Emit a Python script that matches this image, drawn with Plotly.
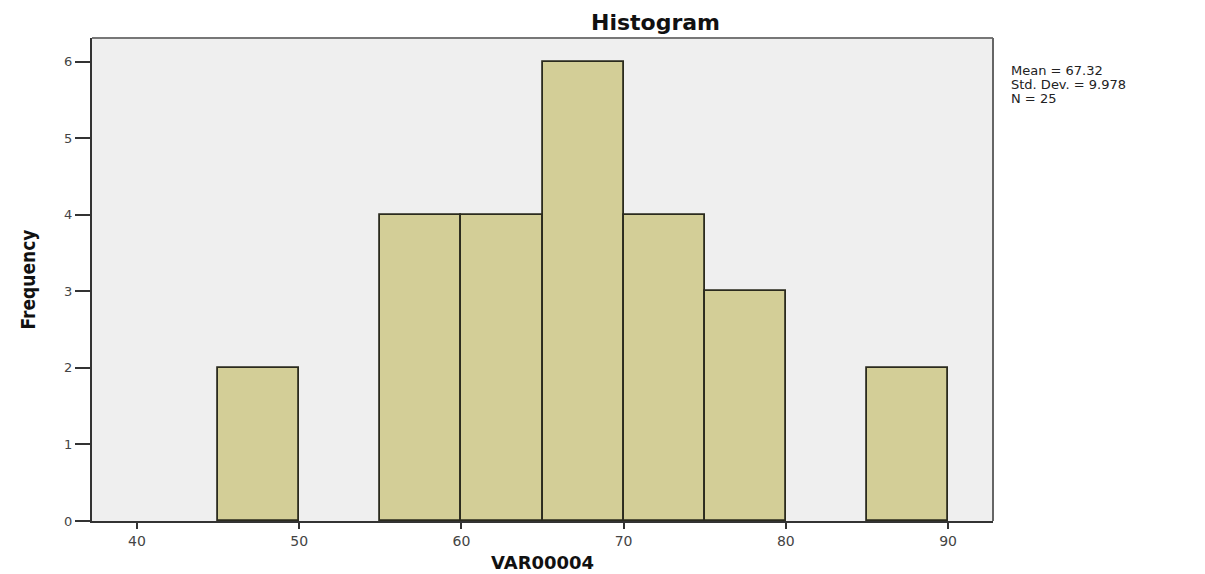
import plotly.graph_objects as go

bin_starts = [45, 55, 60, 65, 70, 75, 85]
bin_width = 5
counts = [2, 4, 4, 6, 4, 3, 2]
x_ticks = [40, 50, 60, 70, 80, 90]
y_ticks = [0, 1, 2, 3, 4, 5, 6]
stats_lines = ["Mean = 67.32", "Std. Dev. = 9.978", "N = 25"]
title_text = "Histogram"
x_title = "VAR00004"
y_title = "Frequency"

centers = [s + bin_width / 2 for s in bin_starts]

WIDE = "DejaVu Sans, Verdana, sans-serif"

fig = go.Figure()
fig.add_trace(go.Bar(
    x=centers, y=counts, width=[bin_width] * len(counts),
    marker=dict(color="#d3ce97", line=dict(color="#2b2b1e", width=1.8)),
    showlegend=False, hoverinfo="x+y",
))

annotations = [
    dict(text="<b>%s</b>" % title_text, xref="paper", yref="paper", x=0.625, y=1.0,
         yshift=16, xanchor="center", yanchor="middle", showarrow=False,
         font=dict(family=WIDE, size=22, color="#111")),
    dict(text="<b>%s</b>" % x_title, xref="paper", yref="paper", x=0.5, y=0.0,
         yshift=-41, xanchor="center", yanchor="middle", showarrow=False,
         font=dict(family=WIDE, size=18, color="#111")),
    dict(text="<b>%s</b>" % y_title, xref="paper", yref="paper", x=0.0, y=0.5,
         xshift=-65, xanchor="center", yanchor="middle", textangle=-90, showarrow=False,
         font=dict(family="DejaVu Sans Condensed, Liberation Sans Narrow, sans-serif",
                   size=19, color="#111")),
]
for i, line in enumerate(stats_lines):
    annotations.append(dict(
        text=line, xref="paper", yref="paper", x=1.0, xshift=16, y=1.0,
        yshift=-32 - 14 * i, xanchor="left", yanchor="middle", align="left",
        showarrow=False, font=dict(family=WIDE, size=13, color="#222")))

fig.update_layout(
    width=1197, height=566,
    margin=dict(l=84, r=212, t=30, b=53),
    paper_bgcolor="white", plot_bgcolor="#efefef",
    font=dict(family=WIDE, color="#333333", size=14),
    bargap=0,
    xaxis=dict(
        range=[37.23, 92.77], tickvals=x_ticks, ticks="outside", ticklen=6,
        tickcolor="#333", tickwidth=2, showgrid=False, zeroline=False,
        showline=True, linecolor="#333", linewidth=2, mirror=False,
        tickfont=dict(family=WIDE, size=14, color="#444"),
    ),
    yaxis=dict(
        range=[0, 6.31], tickvals=y_ticks, ticks="outside", ticklen=15,
        tickcolor="#333", tickwidth=2, showgrid=False, zeroline=False,
        showline=True, linecolor="#333", linewidth=2,
        tickfont=dict(family=WIDE, size=13, color="#444"),
    ),
    shapes=[
        dict(type="line", xref="paper", yref="paper", x0=0, x1=1, y0=1, y1=1,
             line=dict(color="#777", width=2)),
        dict(type="line", xref="paper", yref="paper", x0=1, x1=1, y0=0, y1=1,
             line=dict(color="#666", width=2)),
    ],
    annotations=annotations,
)

fig.write_html("out.html")
